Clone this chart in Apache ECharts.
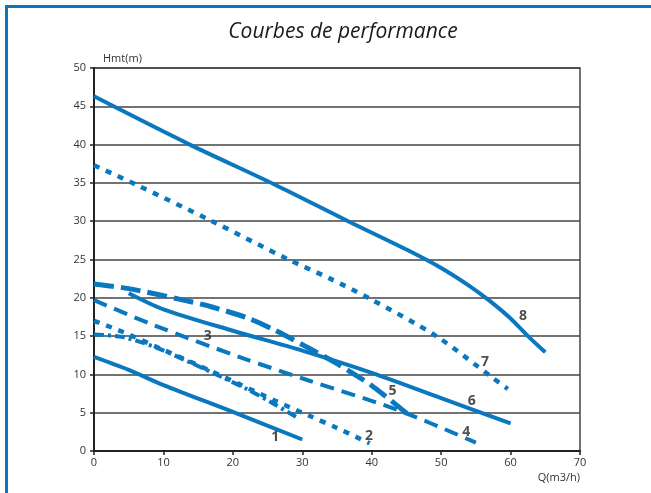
<!DOCTYPE html>
<html>
<head>
<meta charset="utf-8">
<script src="https://cdn.jsdelivr.net/npm/echarts@6/dist/echarts.min.js"></script>
<style>
html,body{margin:0;padding:0;background:#fff;}
#chart{width:651px;height:493px;}
</style>
</head>
<body>
<div id="chart"></div>
<script>
// Data: [Q (m3/h), Hmt (m)]
var curve1 = [[0,12.3],[5,10.6],[10,8.6],[20,5.1],[30,1.5]];
var curve2 = [[0,17.0],[4,15.6],[10,13.2],[15,11.2],[21,8.7],[26,6.6],[31,4.6],[35,3.0],[39.7,1.0]];
var curve3 = [[0,15.2],[4,14.9],[8.7,13.6],[13.5,11.7],[18.3,9.7],[22.2,8.0],[25.8,6.2],[29.2,4.4]];
var curve4 = [[0,19.7],[8.7,16.4],[21.5,12.1],[30.6,9.3],[43.6,5.4],[55,1.1]];
var curve5 = [[0,21.8],[5,21.2],[12.4,19.8],[17,18.8],[22,17.4],[26,15.8],[30.6,13.6],[35,11.4],[40.2,8.4],[45.6,4.5]];
var curve6 = [[5,20.6],[10,18.5],[20,15.7],[30,13.1],[40,10.2],[50,6.9],[60,3.6]];
var curve7 = [[0,37.3],[6,34.8],[17,30],[28,25],[34,22.5],[39.5,20],[49.3,15],[57.5,9.5],[59.6,8.1]];
var curve8 = [[0,46.3],[13.8,40],[26,34.8],[36.6,30],[45,26.3],[50,23.9],[54,21.6],[57,19.6],[60,17.3],[62.5,15],[65,12.9]];
var curveNames = ['1','2','3','4','5','6','7','8'];
var labelPositions = [[26.1,1.8],[39.6,2.0],[16.4,15.0],[53.6,2.5],[43,7.8],[54.4,6.5],[56.3,11.6],[61.8,17.6]];

var BLUE = '#0a78be';
var curves = [curve1,curve2,curve3,curve4,curve5,curve6,curve7,curve8];
var styles = [
  {type:'solid', width:4},
  {type:[6,7], width:4.5},
  {type:[10,4,3,4], width:4},
  {type:[14,8], width:4},
  {type:[20,7], width:5},
  {type:'solid', width:4},
  {type:[6,7], width:4.5},
  {type:'solid', width:4}
];

var series = curves.map(function(d,i){
  return {
    name: curveNames[i], type:'line', data:d, smooth:0.3, symbol:'none',
    lineStyle:{color:BLUE, width:styles[i].width, type:styles[i].type, cap:'butt'},
    z: 3
  };
});
series.push({
  type:'scatter', symbolSize:0, z:5,
  data: labelPositions.map(function(p,i){ return [p[0],p[1],curveNames[i]]; }),
  label:{show:true, position:'inside', formatter:function(p){return p.value[2];},
    fontFamily:'Open Sans', fontWeight:'bold', fontSize:14, color:'#222'}
});

var chart = echarts.init(document.getElementById('chart'), null, {renderer:'canvas'});
chart.setOption({
  animation:false,
  backgroundColor:'#fff',
  title:{text:'Courbes de performance', left:338, top:17, textAlign:'center',
    textStyle:{fontFamily:'Open Sans', fontStyle:'italic', fontWeight:'normal', fontSize:21, color:'#1a1a1a'}},
  grid:{left:94, right:71, top:68, bottom:42, show:true, borderColor:'#444', borderWidth:1.5},
  xAxis:{type:'value', min:0, max:70, interval:10,
    name:'Q(m3/h)', nameLocation:'end', nameGap:0,
    nameTextStyle:{fontFamily:'Open Sans', fontSize:11, color:'#333', align:'right', verticalAlign:'top', padding:[21,0,0,0]},
    axisLine:{show:true, lineStyle:{color:'#222', width:2}},
    axisTick:{show:true, length:4, lineStyle:{color:'#222', width:1.5}},
    axisLabel:{fontFamily:'Open Sans', fontSize:11, color:'#333', margin:6},
    splitLine:{show:false}},
  yAxis:{type:'value', min:0, max:50, interval:5,
    name:'Hmt(m)', nameLocation:'end', nameGap:4,
    nameTextStyle:{fontFamily:'Open Sans', fontSize:11, color:'#333', align:'left', padding:[0,0,0,9]},
    axisLine:{show:true, lineStyle:{color:'#222', width:2}},
    axisTick:{show:true, length:4, lineStyle:{color:'#222', width:1.5}},
    axisLabel:{fontFamily:'Open Sans', fontSize:11, color:'#333', margin:8},
    splitLine:{show:true, lineStyle:{color:'#444', width:1.5}}},
  graphic:[
    {type:'rect', shape:{x:5, y:5, width:646, height:3}, style:{fill:'#0a78be'}, silent:true},
    {type:'rect', shape:{x:5, y:5, width:3, height:488}, style:{fill:'#0a78be'}, silent:true}
  ],
  series: series
});
</script>
</body>
</html>
